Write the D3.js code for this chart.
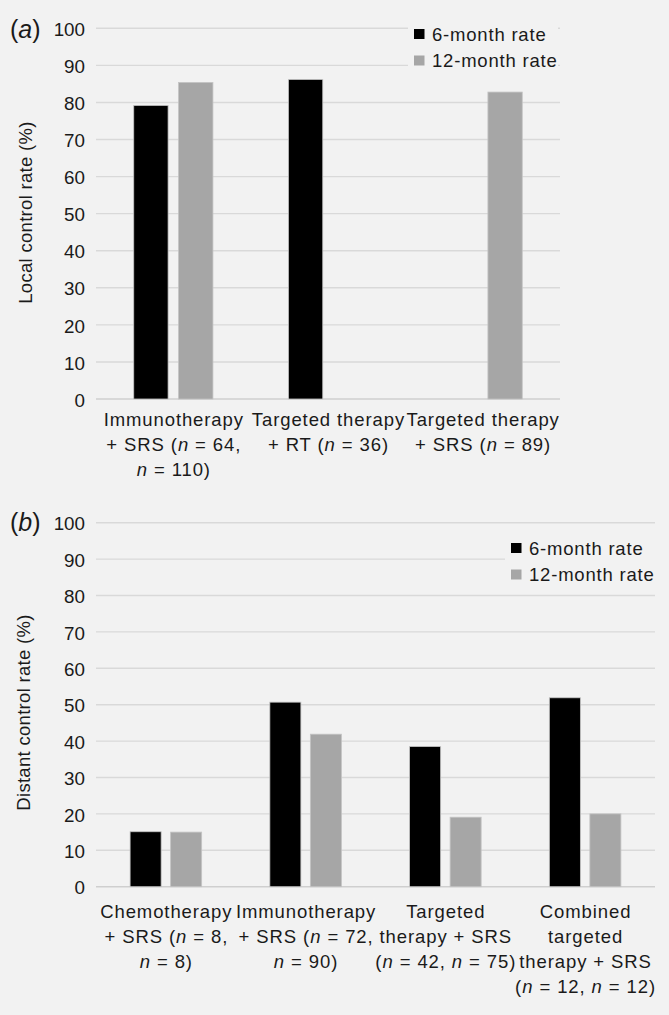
<!DOCTYPE html>
<html>
<head>
<meta charset="utf-8">
<script src="https://cdn.jsdelivr.net/npm/d3@7"></script>
<style>
  html, body { margin: 0; padding: 0; background: #f2f2f2; }
  svg { display: block; }
  text { font-family: "Liberation Sans", Arial, sans-serif; fill: #1a1a1a; }
</style>
</head>
<body>
<svg id="chart" width="669" height="1015"></svg>
<script>
// ---------- DATA ----------
const seriesNames = ["6-month rate", "12-month rate"];
const yTicks = [0, 10, 20, 30, 40, 50, 60, 70, 80, 90, 100];

// Panel (a): local control
const catsA = ["Immunotherapy + SRS", "Targeted therapy + RT", "Targeted therapy + SRS"];
const labelsA = [
  ["Immunotherapy", "+ SRS (n = 64,", "n = 110)"],
  ["Targeted therapy", "+ RT (n = 36)"],
  ["Targeted therapy", "+ SRS (n = 89)"]
];
const sixMonthA = [79.2, 86.2, null];
const twelveMonthA = [85.4, null, 82.8];

// Panel (b): distant control
const catsB = ["Chemotherapy + SRS", "Immunotherapy + SRS", "Targeted therapy + SRS", "Combined targeted therapy + SRS"];
const labelsB = [
  ["Chemotherapy", "+ SRS (n = 8,", "n = 8)"],
  ["Immunotherapy", "+ SRS (n = 72,", "n = 90)"],
  ["Targeted", "therapy + SRS", "(n = 42, n = 75)"],
  ["Combined", "targeted", "therapy + SRS", "(n = 12, n = 12)"]
];
const sixMonthB = [15.1, 50.7, 38.5, 51.9];
const twelveMonthB = [15.0, 41.9, 19.1, 20.0];

// ---------- DRAW ----------
const svg = d3.select("#chart");
const colors = { "6-month rate": "#000000", "12-month rate": "#a6a6a6" };
const FS = 18.5;
const LS = 0.9;

function panel(opt) {
  const g = svg.append("g");
  const x = d3.scaleBand().domain(opt.cats).range([opt.x0, opt.x1]).paddingInner(0).paddingOuter(0);
  const bw = x.bandwidth();
  const xs = d3.scaleBand().domain(seriesNames)
    .range([bw * 0.244, bw * 0.756]).paddingInner(0.234).paddingOuter(0);
  const y = d3.scaleLinear().domain([0, 100]).range([opt.yBottom, opt.yTop]);

  // gridlines
  g.append("g").selectAll("line").data(yTicks).join("line")
    .attr("x1", opt.x0).attr("x2", opt.x1)
    .attr("y1", d => y(d)).attr("y2", d => y(d))
    .attr("stroke", d => d === 0 ? "#cfcfcf" : "#d9d9d9")
    .attr("stroke-width", 1.4);

  // y axis labels via d3 axis
  const yAxis = d3.axisLeft(y).tickValues(yTicks).tickSize(0).tickPadding(0).tickFormat(d3.format("d"));
  const ya = g.append("g").attr("transform", `translate(${opt.x0 - 11},0)`).call(yAxis);
  ya.select(".domain").remove();
  ya.selectAll("text").attr("font-size", 18.8).attr("fill", "#1a1a1a")
    .attr("font-family", '"Liberation Sans", Arial, sans-serif').attr("dy", "0.38em");

  // bars
  const data = [];
  opt.cats.forEach((c, i) => {
    [opt.s6[i], opt.s12[i]].forEach((v, j) => {
      if (v !== null && v !== undefined) data.push({ cat: c, series: seriesNames[j], value: v });
    });
  });
  g.append("g").selectAll("rect").data(data).join("rect")
    .attr("x", d => x(d.cat) + xs(d.series))
    .attr("width", xs.bandwidth())
    .attr("y", d => y(d.value))
    .attr("height", d => y(0) - y(d.value))
    .attr("fill", d => colors[d.series])
    .attr("stroke", "#c4c4c4").attr("stroke-width", 0.8);

  // category labels
  opt.cats.forEach((c, i) => {
    const cx = x(c) + bw / 2 + LS / 2;
    opt.labels[i].forEach((line, k) => {
      const t = g.append("text").attr("x", cx).attr("y", opt.labelY + k * 25)
        .attr("text-anchor", "middle").attr("font-size", FS).attr("letter-spacing", LS);
      line.split(/\b(n)\b/).forEach(part => {
        if (part === "") return;
        t.append("tspan").text(part).attr("font-style", part === "n" ? "italic" : "normal");
      });
    });
  });

  // y title
  g.append("text")
    .attr("transform", `translate(${opt.titleX},${opt.titleY}) rotate(-90)`)
    .attr("text-anchor", "middle").attr("font-size", FS).attr("letter-spacing", 0.3).text(opt.title);

  // panel letter
  const pl = g.append("text").attr("x", 10).attr("y", opt.letterY).attr("font-size", 25);
  pl.append("tspan").text("(");
  pl.append("tspan").attr("font-style", "italic").text(opt.letter);
  pl.append("tspan").text(")");

  // legend
  const lg = g.append("g");
  lg.append("rect").attr("x", opt.legX - 6).attr("y", opt.legY - 8)
    .attr("width", opt.legW).attr("height", 54).attr("fill", "#f2f2f2");
  seriesNames.forEach((s, j) => {
    lg.append("rect").attr("x", opt.legX).attr("y", opt.legY + j * 26.5)
      .attr("width", 10.5).attr("height", 10).attr("fill", colors[s]);
    lg.append("text").attr("x", opt.legX + 18).attr("y", opt.legY + 11.8 + j * 26.5)
      .attr("font-size", FS).attr("letter-spacing", 0.8).text(s);
  });
}

panel({
  cats: catsA, labels: labelsA, s6: sixMonthA, s12: twelveMonthA,
  x0: 96, x1: 560, yTop: 28.3, yBottom: 399, labelY: 425.5,
  title: "Local control rate (%)", titleX: 31.5, titleY: 212.5,
  letter: "a", letterY: 37.5,
  legX: 414, legY: 29, legW: 150
});

panel({
  cats: catsB, labels: labelsB, s6: sixMonthB, s12: twelveMonthB,
  x0: 96, x1: 655, yTop: 522.7, yBottom: 886.7, labelY: 917.5,
  title: "Distant control rate (%)", titleX: 29.5, titleY: 712.5,
  letter: "b", letterY: 531,
  legX: 511, legY: 543, legW: 150
});
</script>
</body>
</html>
